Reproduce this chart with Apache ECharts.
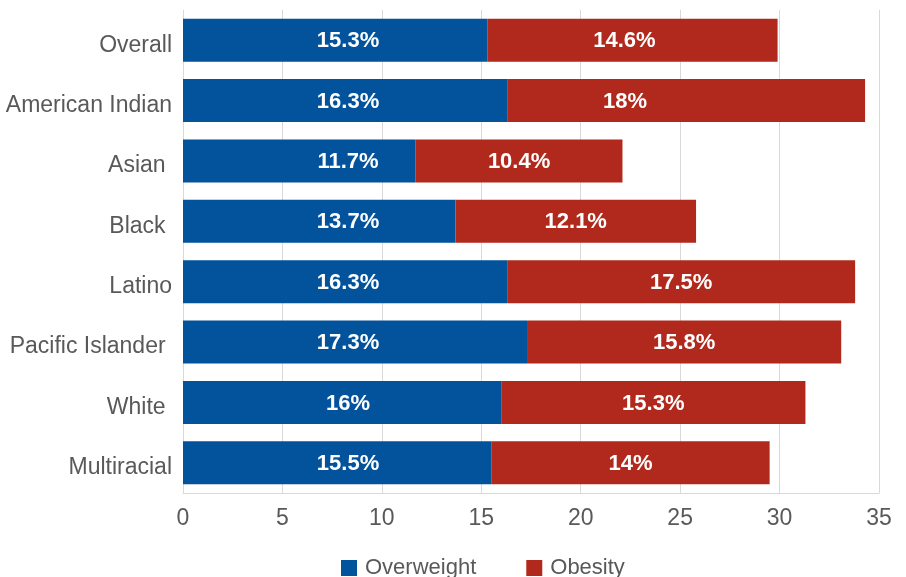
<!DOCTYPE html>
<html>
<head>
<meta charset="utf-8">
<script src="https://cdn.jsdelivr.net/npm/echarts@6/dist/echarts.min.js"></script>
<style>
  html, body { margin: 0; padding: 0; background: #fff; }
  #chart { width: 906px; height: 577px; }
</style>
</head>
<body>
<div id="chart"></div>
<script>
// Overweight and obesity prevalence (%) by group
const categories = ['Overall', 'American Indian', 'Asian ', 'Black ', 'Latino', 'Pacific Islander ', 'White ', 'Multiracial'];
const overweight = [15.3, 16.3, 11.7, 13.7, 16.3, 17.3, 16, 15.5];
const obesity = [14.6, 18, 10.4, 12.1, 17.5, 15.8, 15.3, 14];
const xTicks = { min: 0, max: 35, interval: 5 };

const FONT = '"Liberation Sans", Arial, sans-serif';
const GRAY = '#595959';

// horizontal nudges (px) for a few obesity labels
const obesityLabelNudge = { 0: -8, 1: -61 };

const chart = echarts.init(document.getElementById('chart'), null, { renderer: 'canvas' });

const barLabel = {
  show: true,
  position: 'inside',
  offset: [0, 1],
  color: '#fff',
  fontFamily: FONT,
  fontWeight: 'bold',
  fontSize: 22,
  formatter: p => p.value + '%'
};

const obesityData = obesity.map((v, i) =>
  obesityLabelNudge[i] !== undefined
    ? { value: v, label: { offset: [obesityLabelNudge[i], 1] } }
    : v
);

chart.setOption({
  animation: false,
  grid: { left: 183, right: 27, top: 10, bottom: 84, containLabel: false },
  legend: {
    left: 336,
    top: 552,
    itemWidth: 16,
    itemHeight: 16,
    itemGap: 50,
    icon: 'rect',
    textStyle: { color: GRAY, fontFamily: FONT, fontSize: 22, padding: [0, 0, 0, 3] },
    data: ['Overweight', 'Obesity']
  },
  xAxis: {
    type: 'value',
    min: xTicks.min,
    max: xTicks.max,
    interval: xTicks.interval,
    axisLine: { show: true, lineStyle: { color: '#d9d9d9', width: 1 } },
    axisTick: { show: false },
    splitLine: { show: true, lineStyle: { color: '#d9d9d9', width: 1 } },
    axisLabel: { color: GRAY, fontFamily: FONT, fontSize: 23, margin: 14 }
  },
  yAxis: {
    type: 'category',
    data: categories,
    inverse: true,
    axisLine: { show: false },
    axisTick: { show: false },
    splitLine: { show: false },
    axisLabel: {
      color: GRAY,
      fontFamily: FONT,
      fontSize: 23,
      margin: 11,
      formatter: v => '{c|' + v + '}',
      rich: {
        c: { color: GRAY, fontFamily: FONT, fontSize: 23, padding: [10, 0, 0, 0] }
      }
    }
  },
  series: [
    {
      name: 'Overweight',
      type: 'bar',
      stack: 'total',
      data: overweight,
      barWidth: 43,
      itemStyle: { color: '#02529c' },
      label: Object.assign({}, barLabel, {
        position: [165, '50%'],
        align: 'center',
        verticalAlign: 'middle'
      })
    },
    {
      name: 'Obesity',
      type: 'bar',
      stack: 'total',
      data: obesityData,
      barWidth: 43,
      itemStyle: { color: '#b1291d' },
      label: barLabel
    }
  ]
});
</script>
</body>
</html>
